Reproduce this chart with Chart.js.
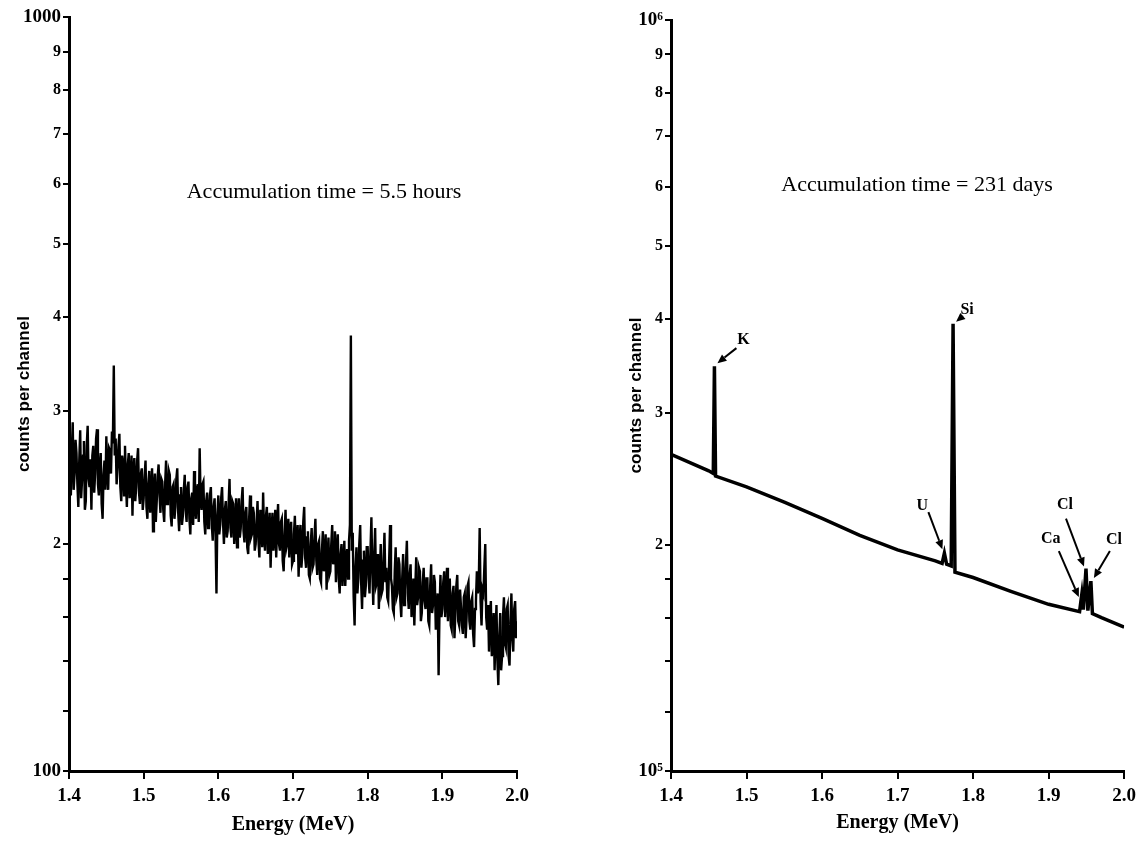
<!DOCTYPE html>
<html lang="en">
<head>
    <title>Gamma spectra</title>
    <script src="https://cdn.jsdelivr.net/npm/chart.js"></script>
    <style>
        body { margin: 0; background: #fff; }
        canvas { position: absolute; top: 0; }
        #leftChart { left: 0; }
        #rightChart { left: 612px; }
    </style>
</head>
<body>

<canvas id="leftChart" width="560" height="841"></canvas>
<canvas id="rightChart" width="530" height="841"></canvas>

<script>
    // left spectrum: 5.5 hours, channels every 1.25 keV starting at 1.4 MeV
    const leftStart = 1.4;
    const leftStep = 0.00125;
    const leftCounts = [
        272, 250, 232, 266, 290, 236, 248, 275, 264, 240, 224, 258, 283, 230, 243, 262, 274, 222, 228, 270,
        287, 244, 238, 259, 222, 262, 270, 234, 248, 276, 284, 240, 232, 255, 264, 226, 216, 247, 258, 236,
        278, 250, 236, 268, 266, 248, 282, 272, 345, 262, 276, 240, 252, 270, 280, 238, 228, 262, 256, 232,
        270, 242, 224, 255, 264, 230, 244, 262, 218, 250, 260, 228, 238, 258, 268, 234, 226, 248, 252, 222,
        230, 246, 258, 224, 216, 240, 250, 220, 234, 252, 208, 236, 248, 214, 228, 246, 255, 232, 220, 244,
        242, 222, 214, 240, 258, 226, 230, 250, 247, 218, 211, 238, 240, 216, 224, 244, 252, 220, 208, 232,
        238, 212, 218, 236, 247, 222, 214, 238, 242, 216, 206, 230, 234, 212, 250, 226, 216, 236, 240, 214,
        268, 230, 222, 240, 242, 214, 206, 228, 234, 210, 214, 232, 238, 212, 202, 224, 230, 206, 172, 218,
        232, 206, 212, 230, 238, 214, 200, 222, 228, 204, 208, 226, 244, 210, 204, 228, 226, 200, 210, 230,
        198, 218, 230, 204, 210, 228, 238, 208, 201, 220, 224, 198, 194, 216, 232, 204, 206, 224, 220, 196,
        200, 214, 228, 202, 192, 222, 217, 198, 234, 206, 196, 218, 224, 194, 204, 220, 186, 208, 220, 196,
        206, 222, 192, 212, 226, 200, 196, 214, 216, 190, 184, 206, 222, 198, 201, 216, 192, 208, 214, 188,
        190, 206, 218, 194, 198, 212, 181, 202, 212, 186, 194, 214, 224, 192, 186, 204, 208, 182, 180, 200,
        210, 186, 188, 204, 216, 190, 182, 200, 202, 180, 178, 196, 208, 184, 191, 206, 174, 192, 204, 182,
        184, 200, 212, 188, 192, 208, 178, 196, 206, 180, 172, 194, 200, 176, 186, 202, 176, 190, 197, 180,
        202, 212, 378, 196, 207, 170, 156, 186, 198, 172, 180, 200, 212, 178, 164, 190, 196, 170, 176, 198,
        198, 180, 172, 196, 217, 184, 166, 192, 210, 176, 178, 194, 164, 182, 200, 172, 174, 190, 207, 178,
        186, 170, 168, 190, 212, 180, 176, 164, 162, 184, 198, 170, 172, 192, 188, 168, 160, 180, 194, 166,
        174, 188, 202, 172, 164, 182, 188, 160, 168, 180, 156, 174, 192, 166, 170, 186, 184, 158, 162, 178,
        186, 168, 164, 180, 180, 158, 156, 176, 188, 162, 166, 182, 178, 154, 160, 172, 134, 164, 182, 160,
        164, 178, 184, 160, 172, 186, 158, 170, 180, 156, 154, 172, 176, 150, 162, 176, 182, 158, 156, 174,
        174, 156, 152, 170, 172, 150, 160, 176, 178, 158, 154, 168, 170, 152, 146, 164, 168, 184, 172, 176,
        210, 168, 156, 174, 172, 186, 200, 160, 154, 166, 144, 160, 168, 142, 148, 162, 136, 152, 166, 140,
        130, 150, 162, 136, 142, 160, 170, 148, 146, 164, 166, 142, 138, 158, 172, 150, 144, 164, 168, 150, 158
    ];

    // right spectrum: 231 days
    const rightEnergy = [1.40, 1.45, 1.456, 1.4575, 1.459, 1.50, 1.55, 1.60, 1.65, 1.70, 1.75,
        1.759, 1.762, 1.765, 1.771, 1.7735, 1.776, 1.80, 1.85, 1.90,
        1.941, 1.944, 1.946, 1.9495, 1.952, 1.956, 1.958, 1.97, 2.00];
    const rightCounts = [2.64e5, 2.51e5, 2.49e5, 3.46e5, 2.47e5, 2.39e5, 2.28e5, 2.17e5, 2.06e5, 1.97e5, 1.905e5,
        1.89e5, 1.95e5, 1.885e5, 1.875e5, 3.94e5, 1.84e5, 1.81e5, 1.735e5, 1.667e5,
        1.63e5, 1.72e5, 1.64e5, 1.86e5, 1.635e5, 1.79e5, 1.62e5, 1.60e5, 1.555e5];

    const peakLabels = ['K', 'Si', 'U', 'Ca', 'Cl', 'Cl'];
    const peakEnergy = [1.4575, 1.7735, 1.762, 1.944, 1.9495, 1.956];
    const peakCounts = [3.46e5, 3.94e5, 1.95e5, 1.72e5, 1.86e5, 1.79e5];
    // arrow tip, arrow tail, label centre — pixel offsets from the peak top
    const peakArrows = [
        [3, -3, 22, -18, 29, -26],
        [3, -2, 10, -8, 14, -14],
        [-2, -4, -16, -41, -22, -47],
        [-3, 3, -23, -43, -31, -55],
        [-2, -2, -20, -50, -21, -64],
        [3, -3, 19, -30, 23, -41]
    ];

    const xTicks = [1.4, 1.5, 1.6, 1.7, 1.8, 1.9, 2.0];
    const leftYTicks = [100, 120, 140, 160, 180, 200, 300, 400, 500, 600, 700, 800, 900, 1000];
    const rightYTicks = [1e5, 1.2e5, 1.4e5, 1.6e5, 1.8e5, 2e5, 3e5, 4e5, 5e5, 6e5, 7e5, 8e5, 9e5, 1e6];

    const serif = '"Liberation Serif", "Times New Roman", serif';

    const leftPoints = leftCounts.map((c, i) => ({ x: leftStart + i * leftStep, y: c }));
    const rightPoints = rightEnergy.map((e, i) => ({ x: e, y: rightCounts[i] }));

    const noteText = {
        id: 'noteText',
        afterDraw(chart, args, opts) {
            const ctx = chart.ctx;
            ctx.save();
            ctx.fillStyle = '#000';
            ctx.font = '22px ' + serif;
            ctx.textAlign = 'center';
            ctx.textBaseline = 'middle';
            ctx.fillText(opts.text, opts.x, opts.y);
            ctx.restore();
        }
    };

    const peakNotes = {
        id: 'peakNotes',
        afterDatasetsDraw(chart) {
            if (chart.canvas.id !== 'rightChart') return;
            const ctx = chart.ctx;
            const xs = chart.scales.x, ys = chart.scales.y;
            ctx.save();
            ctx.fillStyle = '#000';
            ctx.strokeStyle = '#000';
            ctx.lineWidth = 2;
            ctx.font = 'bold 16px ' + serif;
            ctx.textAlign = 'center';
            ctx.textBaseline = 'middle';
            peakLabels.forEach((lab, i) => {
                const px = xs.getPixelForValue(peakEnergy[i]);
                const py = ys.getPixelForValue(peakCounts[i]);
                const o = peakArrows[i];
                const tx = px + o[0], ty = py + o[1];
                const sx = px + o[2], sy = py + o[3];
                const ang = Math.atan2(ty - sy, tx - sx);
                const hl = 9, hw = 4;
                const bx = tx - hl * Math.cos(ang), by = ty - hl * Math.sin(ang);
                ctx.beginPath();
                ctx.moveTo(sx, sy);
                ctx.lineTo(bx, by);
                ctx.stroke();
                ctx.beginPath();
                ctx.moveTo(tx, ty);
                ctx.lineTo(bx + hw * Math.sin(ang), by - hw * Math.cos(ang));
                ctx.lineTo(bx - hw * Math.sin(ang), by + hw * Math.cos(ang));
                ctx.closePath();
                ctx.fill();
                ctx.fillText(lab, px + o[4], py + o[5]);
            });
            ctx.restore();
        }
    };

    function makeOptions(yTicks, yWidth, pad, note) {
        const yMin = yTicks[0], yMax = yTicks[yTicks.length - 1];
        return {
            responsive: false,
            animation: false,
            layout: { padding: pad },
            plugins: {
                legend: { display: false },
                tooltip: { enabled: false },
                noteText: note
            },
            scales: {
                x: {
                    type: 'linear',
                    min: 1.4,
                    max: 2.0,
                    afterBuildTicks: (s) => { s.ticks = xTicks.map(v => ({ value: v })); },
                    afterFit: (s) => { s.height = 841 - 771 - pad.bottom; },
                    border: { color: '#000', width: 3 },
                    grid: { drawOnChartArea: false, drawTicks: true, tickLength: 8, color: '#000', lineWidth: 2 },
                    ticks: {
                        color: '#000',
                        padding: 6,
                        maxRotation: 0,
                        font: { family: serif, size: 19, weight: 'bold' },
                        callback: v => v.toFixed(1)
                    },
                    title: {
                        display: true,
                        text: 'Energy (MeV)',
                        color: '#000',
                        padding: { top: 0, bottom: 4 },
                        font: { family: serif, size: 20, weight: 'bold' }
                    }
                },
                y: {
                    type: 'logarithmic',
                    min: yMin,
                    max: yMax,
                    afterBuildTicks: (s) => { s.ticks = yTicks.map(v => ({ value: v, major: false })); },
                    afterFit: (s) => { s.width = yWidth; },
                    border: { color: '#000', width: 3 },
                    grid: { drawOnChartArea: false, drawTicks: true, tickLength: 6, color: '#000', lineWidth: 2 },
                    ticks: {
                        color: '#000',
                        padding: 2,
                        autoSkip: false,
                        font: (c) => ({
                            family: serif,
                            weight: 'bold',
                            size: (c.tick && (c.tick.value === yMin || c.tick.value === yMax)) ? 19 : 16
                        }),
                        callback: function (v) {
                            if (v === yMin) return yMin === 100 ? '100' : '10⁵';
                            if (v === yMax) return yMax === 1000 ? '1000' : '10⁶';
                            const d = v / yMin;
                            const r = Math.round(d);
                            return (Math.abs(d - r) < 1e-6 && r >= 2 && r <= 9) ? String(r) : '';
                        }
                    },
                    title: {
                        display: true,
                        text: 'counts per channel',
                        color: '#000',
                        padding: { top: 14, bottom: 0 },
                        font: { family: '"Liberation Sans", Arial, sans-serif', size: 17, weight: 'bold' }
                    }
                }
            }
        };
    }

    new Chart(document.getElementById('leftChart'), {
        type: 'line',
        data: {
            datasets: [{
                data: leftPoints,
                borderColor: '#000',
                borderWidth: 2.4,
                pointRadius: 0,
                tension: 0
            }]
        },
        options: makeOptions(leftYTicks, 69, { top: 17, right: 43, bottom: 0, left: 0 },
            { text: 'Accumulation time = 5.5 hours', x: 324, y: 192 }),
        plugins: [noteText]
    });

    new Chart(document.getElementById('rightChart'), {
        type: 'line',
        data: {
            datasets: [{
                data: rightPoints,
                borderColor: '#000',
                borderWidth: 3.5,
                pointRadius: 0,
                tension: 0
            }]
        },
        options: makeOptions(rightYTicks, 59, { top: 20, right: 17, bottom: 2, left: 0 },
            { text: 'Accumulation time = 231 days', x: 917 - 612, y: 185 }),
        plugins: [noteText, peakNotes]
    });
</script>

</body>
</html>
